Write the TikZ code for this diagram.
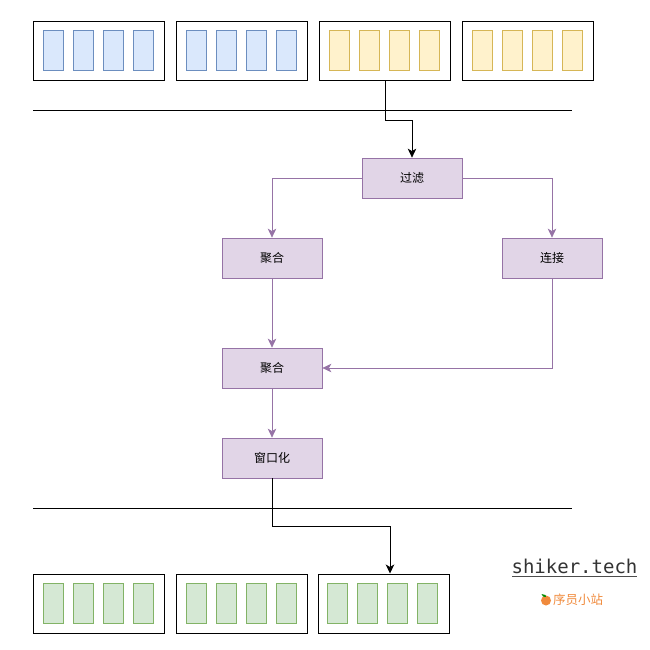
\documentclass[tikz,border=0pt]{standalone}
\usepackage{fontspec}
\usepackage{xcolor}
\setmonofont{DejaVu Sans Mono}
\newfontfamily\cjk{Noto Sans CJK SC}
\usetikzlibrary{arrows.meta}
\definecolor{blueFill}{HTML}{DAE8FC}
\definecolor{blueLine}{HTML}{6C8EBF}
\definecolor{yellowFill}{HTML}{FFF2CC}
\definecolor{yellowLine}{HTML}{D6B656}
\definecolor{greenFill}{HTML}{D5E8D4}
\definecolor{greenLine}{HTML}{82B366}
\definecolor{purpleFill}{HTML}{E1D5E7}
\definecolor{purpleLine}{HTML}{9673A6}
\definecolor{siteOrange}{HTML}{F08A3C}
\begin{document}
\begin{tikzpicture}
[x=1pt,y=-1pt,
 outer/.style={draw=black,line width=0.8pt,minimum width=131pt,minimum height=59pt,inner sep=0pt},
 cell/.style={draw=#1Line,fill=#1Fill,line width=0.6pt,minimum width=20pt,minimum height=40pt,inner sep=0pt},
 stage/.style={draw=purpleLine,fill=purpleFill,line width=0.75pt,minimum width=100pt,minimum height=40pt,inner sep=0pt,font=\cjk\fontsize{12}{14}\selectfont},
 flow/.style={draw=purpleLine,line width=0.75pt,-{Stealth[length=9pt,width=8.5pt,inset=2.5pt]}},
 feed/.style={draw=black,line width=0.75pt,-{Stealth[length=9pt,width=8.5pt,inset=2.5pt]}},
 rule/.style={draw=black,line width=0.75pt}]
  \useasboundingbox (0,0) rectangle (650,650);
  % source boxes
  \node[outer] (t1) at (98.5,50.5) {};
  \node[outer] (t2) at (242,50.5) {};
  \node[outer] (t3) at (385,50.5) {};
  \node[outer] (t4) at (528,50.5) {};
  \foreach \x in {53,83,113,143}
    \node[cell=blue] (ta\x) at (\x,50) {};
  \foreach \x in {196,226,256,286}
    \node[cell=blue] (tb\x) at (\x,50) {};
  \foreach \x in {339.5,369.5,399.5,429.5}
    \node[cell=yellow] at (\x,50) {};
  \foreach \x in {482.5,512.5,542.5,572.5}
    \node[cell=yellow] at (\x,50) {};
  % sink boxes
  \node[outer] (b1) at (98.5,603.5) {};
  \node[outer] (b2) at (241.5,603.5) {};
  \node[outer] (b3) at (383.5,603.5) {};
  \foreach \x in {53,83,113,143}
    \node[cell=green] (ba\x) at (\x,603) {};
  \foreach \x in {196,226,256,286}
    \node[cell=green] (bb\x) at (\x,603) {};
  \foreach \x in {337,367,397,427}
    \node[cell=green] (bc\x) at (\x,603) {};
  % separators
  \coordinate (r1a) at (33,110);
  \coordinate (r1b) at (572,110);
  \coordinate (r2a) at (33,508);
  \coordinate (r2b) at (572,508);
  \draw[rule] (r1a) -- (r1b);
  \draw[rule] (r2a) -- (r2b);
  % stages
  \node[stage] (filter) at (412,178) {过滤};
  \node[stage] (agg1) at (272,258) {聚合};
  \node[stage] (join) at (552,258) {连接};
  \node[stage] (agg2) at (272,368) {聚合};
  \node[stage] (window) at (272,458) {窗口化};
  \coordinate (turn1) at (385,120);
  \coordinate (turn2) at (272,526);
  \coordinate (sink) at (390,573.5);
  \coordinate (turn3) at (390,526);
  \draw[feed] (t3.south) -- (turn1) -| (filter.north);
  \draw[feed] (window.south) -- (turn2) -- (turn3) -- (sink);
  \draw[flow] (filter.west) -| (agg1.north);
  \draw[flow] (filter.east) -| (join.north);
  \draw[flow] (join.south) |- (agg2.east);
  \foreach \from/\to in {agg1/agg2, agg2/window}
    \draw[flow] (\from) -- (\to);
  % site mark
  \node[inner sep=0pt,text=black!80,font=\ttfamily\fontsize{19}{21}\selectfont] (site) at (574.5,566.5) {shiker.tech};
  \coordinate (ula) at (512,576.5);
  \coordinate (ulb) at (637,576.5);
  \draw[black!70,line width=0.8pt] (ula) -- (ulb);
  \node[inner sep=0pt,text=siteOrange,font=\cjk\fontsize{12.5}{14}\selectfont] (cn) at (578,600) {序员小站};
  \fill[siteOrange] (546,600.5) circle (5pt);
  \fill[green!55!black] (541.5,594) -- (545.5,595) -- (546,597) -- (543,596.5) -- cycle;
\end{tikzpicture}
\end{document}
